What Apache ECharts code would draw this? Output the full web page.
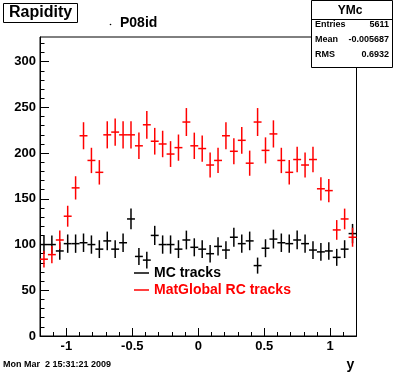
<!DOCTYPE html>
<html><head><meta charset="utf-8">
<script src="https://cdn.jsdelivr.net/npm/echarts@6/dist/echarts.min.js"></script>
<style>html,body{margin:0;padding:0;background:#fff}#c{width:396px;height:374px}</style>
</head><body><div id="c"></div>
<script>
// ---- data ----
const binCenters = [-1.17,-1.11,-1.05,-0.99,-0.93,-0.87,-0.81,-0.75,-0.69,-0.63,-0.57,-0.51,-0.45,-0.39,-0.33,-0.27,-0.21,-0.15,-0.09,-0.03,
  0.03,0.09,0.15,0.21,0.27,0.33,0.39,0.45,0.51,0.57,0.63,0.69,0.75,0.81,0.87,0.93,0.99,1.05,1.11,1.17];
const binHalfWidth = 0.03;
const mcTracks = [100,100,93,101,101,102,100,95,104,95,102,128,87,83,110,100,100,95,105,97,
  95,90,98,94,108,101,104,77,96,106,102,101,105,101,94,92,93,86,95,112];
const rcTracks = [84,89,105,131,162,219,192,179,220,223,220,220,208,231,213,210,199,206,234,208,
  205,187,192,219,202,214,189,234,203,221,192,179,193,187,193,161,159,116,128,108];
const xMajorTicks = [-1,-0.5,0,0.5,1];
const xTickLabels = ['-1','-0.5','0','0.5','1'];
const xMinorTicks = [-1.2,-1.1,-0.9,-0.8,-0.7,-0.6,-0.4,-0.3,-0.2,-0.1,0.1,0.2,0.3,0.4,0.6,0.7,0.8,0.9,1.1,1.2];
const yMajorTicks = [0,50,100,150,200,250,300];
const yMinorTicks = [10,20,30,40,60,70,80,90,110,120,130,140,160,170,180,190,210,220,230,240,260,270,280,290,310,320];
const seriesNames = ['MC tracks','MatGlobal RC tracks'];
const statsLabels = ['Entries','Mean','RMS'];
const statsValues = ['5611','-0.005687','0.6932'];

const FONT = 'Liberation Sans, Arial, Helvetica, sans-serif';
const chart = echarts.init(document.getElementById('c'), null, {renderer:'canvas'});

function makeRender(color){
  return function(params, api){
    const x = api.value(0), y = api.value(1);
    const e = Math.sqrt(y);
    const a = api.coord([x - binHalfWidth, y]);
    const b = api.coord([x + binHalfWidth, y]);
    const t = api.coord([x, y + e]);
    const d = api.coord([x, y - e]);
    const st = {stroke: color, lineWidth: 1.5};
    return {type:'group', children:[
      {type:'line', shape:{x1:a[0], y1:a[1], x2:b[0], y2:b[1]}, style:st},
      {type:'line', shape:{x1:t[0], y1:t[1], x2:d[0], y2:d[1]}, style:st}
    ]};
  };
}

const xMin = -1.2, xMax = 1.2, yMin = 0, yMax = 327;
const axisLineStyle = {color:'#000', width:1};

const statsText = [];
for (let i = 0; i < statsLabels.length; i++) {
  const yy = 25 + i * 15;
  statsText.push({type:'text', x:4, y:yy, style:{text:statsLabels[i], fontFamily:FONT, fontWeight:'bold', fontSize:9, fill:'#000', verticalAlign:'middle'}});
  statsText.push({type:'text', x:78, y:yy, style:{text:statsValues[i], fontFamily:FONT, fontWeight:'bold', fontSize:9, fill:'#000', align:'right', verticalAlign:'middle'}});
}

const option = {
  animation:false,
  backgroundColor:'#fff',
  title:{text:'Rapidity', left:3, top:3, borderColor:'#000', borderWidth:1, padding:[2,6,2,6],
    textStyle:{fontFamily:FONT, fontWeight:'bold', fontSize:16, lineHeight:16, color:'#000'}},
  grid:{left:40, top:37, right:39.5, bottom:38, show:true, borderColor:'#000', borderWidth:1, backgroundColor:'transparent'},
  legend:{orient:'vertical', left:134, top:266, padding:0, itemWidth:15, itemHeight:1.5, itemGap:3, icon:'rect',
    textStyle:{fontFamily:FONT, fontWeight:'bold', fontSize:14},
    data:[{name:seriesNames[0], textStyle:{color:'#000'}},{name:seriesNames[1], textStyle:{color:'#f00'}}]},
  xAxis:[
    {type:'value', min:xMin, max:xMax, position:'bottom',
      axisLine:{show:true, lineStyle:axisLineStyle, onZero:false},
      axisTick:{show:true, inside:true, length:8, customValues:xMajorTicks, lineStyle:{color:'#000'}},
      axisLabel:{show:true, customValues:xMajorTicks, margin:4, color:'#000', fontFamily:FONT, fontWeight:'bold', fontSize:13,
        formatter:function(v){ const i = xMajorTicks.indexOf(v); return i>=0 ? xTickLabels[i] : ''; }},
      splitLine:{show:false},
      name:'y', nameLocation:'end', nameGap:0,
      nameTextStyle:{fontFamily:FONT, fontWeight:'bold', fontSize:14, color:'#000', align:'center', verticalAlign:'top', padding:[22,0,0,-12]}},
    {type:'value', min:xMin, max:xMax, position:'bottom',
      axisLine:{show:false, onZero:false},
      axisTick:{show:true, inside:true, length:4, customValues:xMinorTicks, lineStyle:{color:'#000'}},
      axisLabel:{show:false}, splitLine:{show:false}}
  ],
  yAxis:[
    {type:'value', min:yMin, max:yMax, position:'left',
      axisLine:{show:true, lineStyle:axisLineStyle, onZero:false},
      axisTick:{show:true, inside:true, length:9, customValues:yMajorTicks, lineStyle:{color:'#000'}},
      axisLabel:{show:true, customValues:yMajorTicks, margin:4, color:'#000', fontFamily:FONT, fontWeight:'bold', fontSize:13},
      splitLine:{show:false}},
    {type:'value', min:yMin, max:yMax, position:'left',
      axisLine:{show:false, onZero:false},
      axisTick:{show:true, inside:true, length:4.5, customValues:yMinorTicks, lineStyle:{color:'#000'}},
      axisLabel:{show:false}, splitLine:{show:false}}
  ],
  series:[
    {name:seriesNames[0], type:'custom', xAxisIndex:0, yAxisIndex:0, itemStyle:{color:'#000'},
      renderItem:makeRender('#000'), data:binCenters.map((x,i)=>[x, mcTracks[i]]), clip:true},
    {name:seriesNames[1], type:'custom', xAxisIndex:0, yAxisIndex:0, itemStyle:{color:'#f00'},
      renderItem:makeRender('#f00'), data:binCenters.map((x,i)=>[x, rcTracks[i]]), clip:true}
  ],
  graphic:[
    {type:'circle', shape:{cx:110.5, cy:24.5, r:0.8}, style:{fill:'#000'}},
    {type:'text', left:120, top:16, style:{text:'P08id', fontFamily:FONT, fontWeight:'bold', fontSize:14, fill:'#000'}},
    {type:'group', left:309, top:0, z:100, children:[
      {type:'rect', shape:{x:0.5, y:0.5, width:81, height:67}, style:{fill:'#fff', stroke:'#000', lineWidth:1}},
      {type:'line', shape:{x1:0.5, y1:19.5, x2:81.5, y2:19.5}, style:{stroke:'#000', lineWidth:1}},
      {type:'text', x:39, y:10.5, style:{text:'YMc', fontFamily:FONT, fontWeight:'bold', fontSize:12, fill:'#000', align:'center', verticalAlign:'middle'}}
    ].concat(statsText)},
    {type:'text', left:3, top:360, style:{text:'Mon Mar  2 15:31:21 2009', fontFamily:FONT, fontWeight:'bold', fontSize:9, fill:'#000'}}
  ]
};
chart.setOption(option);
</script>
</body></html>
